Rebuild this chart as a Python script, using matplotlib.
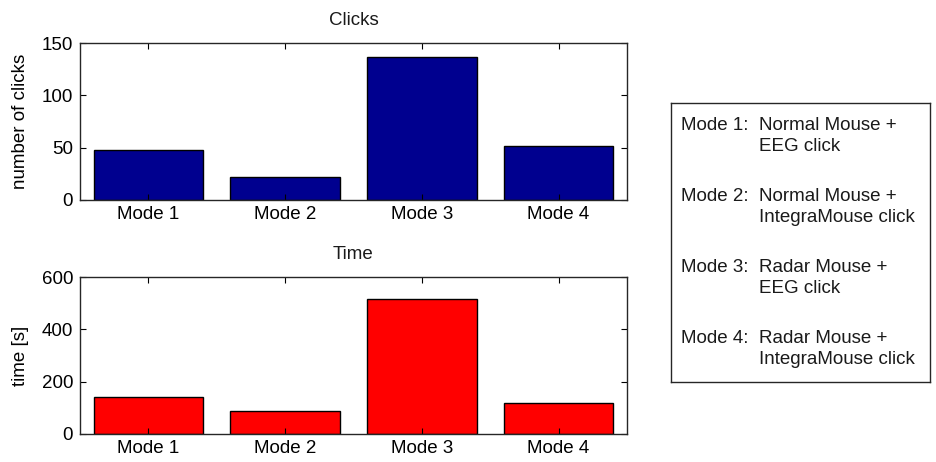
import matplotlib
matplotlib.use("Agg")
import matplotlib.pyplot as plt

plt.rcParams.update({
    "font.family": ["Liberation Sans", "DejaVu Sans"],
    "font.size": 13.5,
    "text.color": "#1a1a1a",
    "axes.linewidth": 1.0,
    "axes.edgecolor": "#262626",
    "xtick.direction": "in", "ytick.direction": "in",
    "xtick.top": True, "ytick.right": True,
    "xtick.major.size": 4, "ytick.major.size": 4,
    "xtick.major.pad": 4, "ytick.major.pad": 5,
})

modes = ["Mode 1", "Mode 2", "Mode 3", "Mode 4"]
clicks = [48, 22, 137, 52]
times = [141, 89, 515, 118]
legend_heads = ["Mode 1:", "Mode 2:", "Mode 3:", "Mode 4:"]
legend_desc = ["Normal Mouse +\nEEG click",
               "Normal Mouse +\nIntegraMouse click",
               "Radar Mouse +\nEEG click",
               "Radar Mouse +\nIntegraMouse click"]

W, H = 937, 462
fig = plt.figure(figsize=(W / 100, H / 100), dpi=100)


def px_axes(x0, y0, x1, y1):
    # axes placed by pixel box (top-left origin)
    return fig.add_axes([x0 / W, 1 - y1 / H, (x1 - x0) / W, (y1 - y0) / H])


def bar_panel(ax, vals, color, title, ylabel, ymax, step):
    pos = range(1, len(vals) + 1)
    ax.bar(pos, vals, width=0.8, color=color, edgecolor="black", linewidth=1.0)
    ax.set_xlim(0.5, len(vals) + 0.5)
    ax.set_ylim(0, ymax)
    ax.set_yticks(range(0, ymax + 1, step))
    ax.set_xticks(list(pos), modes)
    ax.set_title(title, fontsize=13.5, pad=13)
    ax.set_ylabel(ylabel, labelpad=9)


ax1 = px_axes(80, 43, 627, 200)
bar_panel(ax1, clicks, "#00008f", "Clicks", "number of clicks", 150, 50)

ax2 = px_axes(80, 277, 627, 434)
bar_panel(ax2, times, "#ff0000", "Time", "time [s]", 600, 200)

# mode descriptions in a framed box on the right
box = px_axes(671, 103, 930, 382)
box.set_xticks([]); box.set_yticks([])
box.set_xlim(0, 259); box.set_ylim(279, 0)
for sp in box.spines.values():
    sp.set_linewidth(1.0)
for i, (head, desc) in enumerate(zip(legend_heads, legend_desc)):
    y = 14 + i * 71
    box.text(10, y, head, va="top", ha="left", linespacing=1.3)
    box.text(88, y, desc, va="top", ha="left", linespacing=1.3)

fig.savefig("out.png", dpi=100)
